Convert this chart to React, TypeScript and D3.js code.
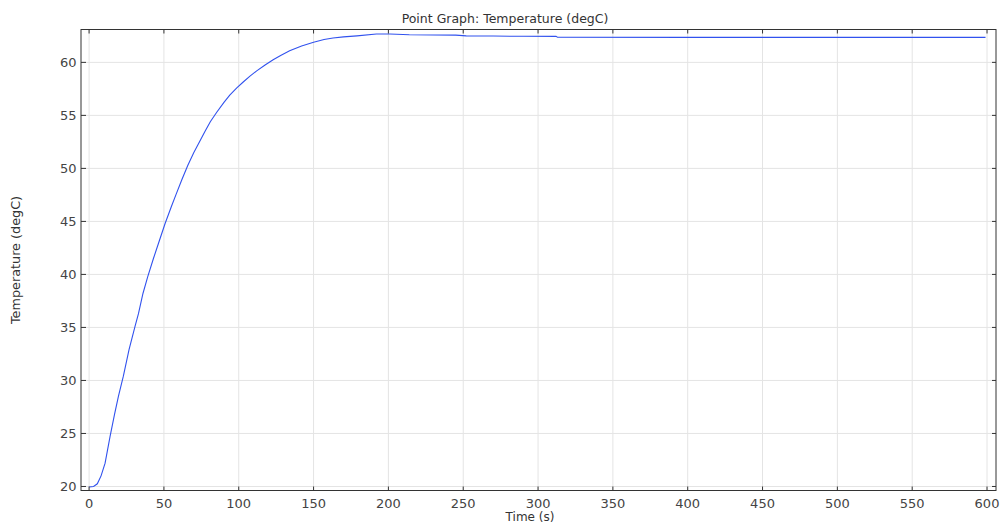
import { useEffect, useRef } from 'react';
import * as d3 from 'd3';

// time (s) and temperature (degC)
const times = [
  0, 3, 5.5, 8, 10.7, 14, 17, 19.6, 22.9, 26.7, 30.7, 33, 36, 39.2, 43, 47, 50.8, 55, 58, 61.9,
  66, 70, 73, 77.5, 81, 85.3, 90, 94, 98.7, 103, 107.5, 112, 117.6, 123, 128, 134, 142, 150, 157,
  163, 170, 179, 192, 201, 214, 230, 245, 252, 270, 290, 312, 313, 400, 500, 599,
];
const temps = [
  19.95, 20.0, 20.25, 21.0, 22.2, 24.7, 26.8, 28.5, 30.4, 32.9, 35.1, 36.3, 38.2, 39.8, 41.5, 43.2,
  44.8, 46.4, 47.5, 48.9, 50.3, 51.5, 52.3, 53.5, 54.4, 55.3, 56.2, 56.9, 57.6, 58.15, 58.7, 59.2,
  59.75, 60.25, 60.65, 61.1, 61.55, 61.9, 62.15, 62.3, 62.4, 62.5, 62.67, 62.67, 62.6, 62.58, 62.57,
  62.5, 62.48, 62.46, 62.45, 62.37, 62.36, 62.36, 62.36,
];
const xTicks = [0, 50, 100, 150, 200, 250, 300, 350, 400, 450, 500, 550, 600];
const yTicks = [20, 25, 30, 35, 40, 45, 50, 55, 60];

const title = 'Point Graph: Temperature (degC)';
const xLabel = 'Time (s)';
const yLabel = 'Temperature (degC)';

const App = () => {
  const svgRef = useRef<SVGSVGElement>(null);
  const width = 1001;
  const height = 524;
  const plot = { left: 81, right: 996, top: 29.5, bottom: 490.5 };

  useEffect(() => {
    const svg = d3.select(svgRef.current);
    svg.selectAll('*').remove();

    const font = '"DejaVu Sans", Verdana, sans-serif';

    const x = d3.scaleLinear().domain([-5.4, 606]).range([plot.left, plot.right]);
    const y = d3.scaleLinear().domain([19.62, 63.1]).range([plot.bottom, plot.top]);

    svg.append('rect').attr('width', width).attr('height', height).attr('fill', '#fff');

    // grid
    const grid = svg.append('g').attr('stroke', '#e4e4e4').attr('stroke-width', 1);
    grid.selectAll('.gx')
      .data(xTicks)
      .join('line')
      .attr('x1', d => x(d)).attr('x2', d => x(d))
      .attr('y1', plot.top).attr('y2', plot.bottom);
    grid.selectAll('.gy')
      .data(yTicks)
      .join('line')
      .attr('x1', plot.left).attr('x2', plot.right)
      .attr('y1', d => y(d)).attr('y2', d => y(d));

    // the curve
    const pts: [number, number][] = times.map((t, i) => [t, temps[i]]);
    const line = d3.line<[number, number]>()
      .x(d => x(d[0]))
      .y(d => y(d[1]));
    svg.append('path')
      .datum(pts)
      .attr('d', line)
      .attr('fill', 'none')
      .attr('stroke', '#3152ee')
      .attr('stroke-width', 1.1);

    // frame with inward ticks
    const frame = svg.append('g').attr('stroke', '#333').attr('stroke-width', 1).attr('fill', 'none');
    frame.append('rect')
      .attr('x', plot.left).attr('y', plot.top)
      .attr('width', plot.right - plot.left).attr('height', plot.bottom - plot.top);
    frame.selectAll('.tb')
      .data(xTicks)
      .join('line')
      .attr('x1', d => x(d)).attr('x2', d => x(d))
      .attr('y1', plot.bottom).attr('y2', plot.bottom - 4);
    frame.selectAll('.tt')
      .data(xTicks)
      .join('line')
      .attr('x1', d => x(d)).attr('x2', d => x(d))
      .attr('y1', plot.top).attr('y2', plot.top + 4);
    frame.selectAll('.tl')
      .data(yTicks)
      .join('line')
      .attr('x1', plot.left).attr('x2', plot.left + 5)
      .attr('y1', d => y(d)).attr('y2', d => y(d));
    frame.selectAll('.tr')
      .data(yTicks)
      .join('line')
      .attr('x1', plot.right).attr('x2', plot.right - 4)
      .attr('y1', d => y(d)).attr('y2', d => y(d));

    // tick labels
    svg.append('g')
      .selectAll('text')
      .data(xTicks)
      .join('text')
      .attr('x', d => x(d))
      .attr('y', 507.5)
      .attr('text-anchor', 'middle')
      .attr('font-family', font)
      .attr('font-size', 13)
      .attr('fill', '#444')
      .text(d => d);
    svg.append('g')
      .selectAll('text')
      .data(yTicks)
      .join('text')
      .attr('x', 76.5)
      .attr('y', d => y(d))
      .attr('dy', '0.36em')
      .attr('text-anchor', 'end')
      .attr('font-family', font)
      .attr('font-size', 13)
      .attr('fill', '#444')
      .text(d => d);

    // titles
    svg.append('text')
      .attr('x', 505).attr('y', 22.5)
      .attr('text-anchor', 'middle')
      .attr('font-family', font).attr('font-size', 12.5).attr('fill', '#333')
      .text(title);
    svg.append('text')
      .attr('x', 530).attr('y', 520.5)
      .attr('text-anchor', 'middle')
      .attr('font-family', font).attr('font-size', 12).attr('fill', '#333')
      .text(xLabel);
    svg.append('text')
      .attr('transform', 'translate(20,' + (plot.top + plot.bottom) / 2 + ') rotate(-90)')
      .attr('text-anchor', 'middle')
      .attr('font-family', font).attr('font-size', 12.8).attr('fill', '#333')
      .text(yLabel);
  }, []);

  return (
    <div>
      <svg
        ref={svgRef}
        width={width}
        height={height}
        style={{ position: 'absolute', left: 0, top: 0, display: 'block' }}
      ></svg>
    </div>
  );
};

export default App;
